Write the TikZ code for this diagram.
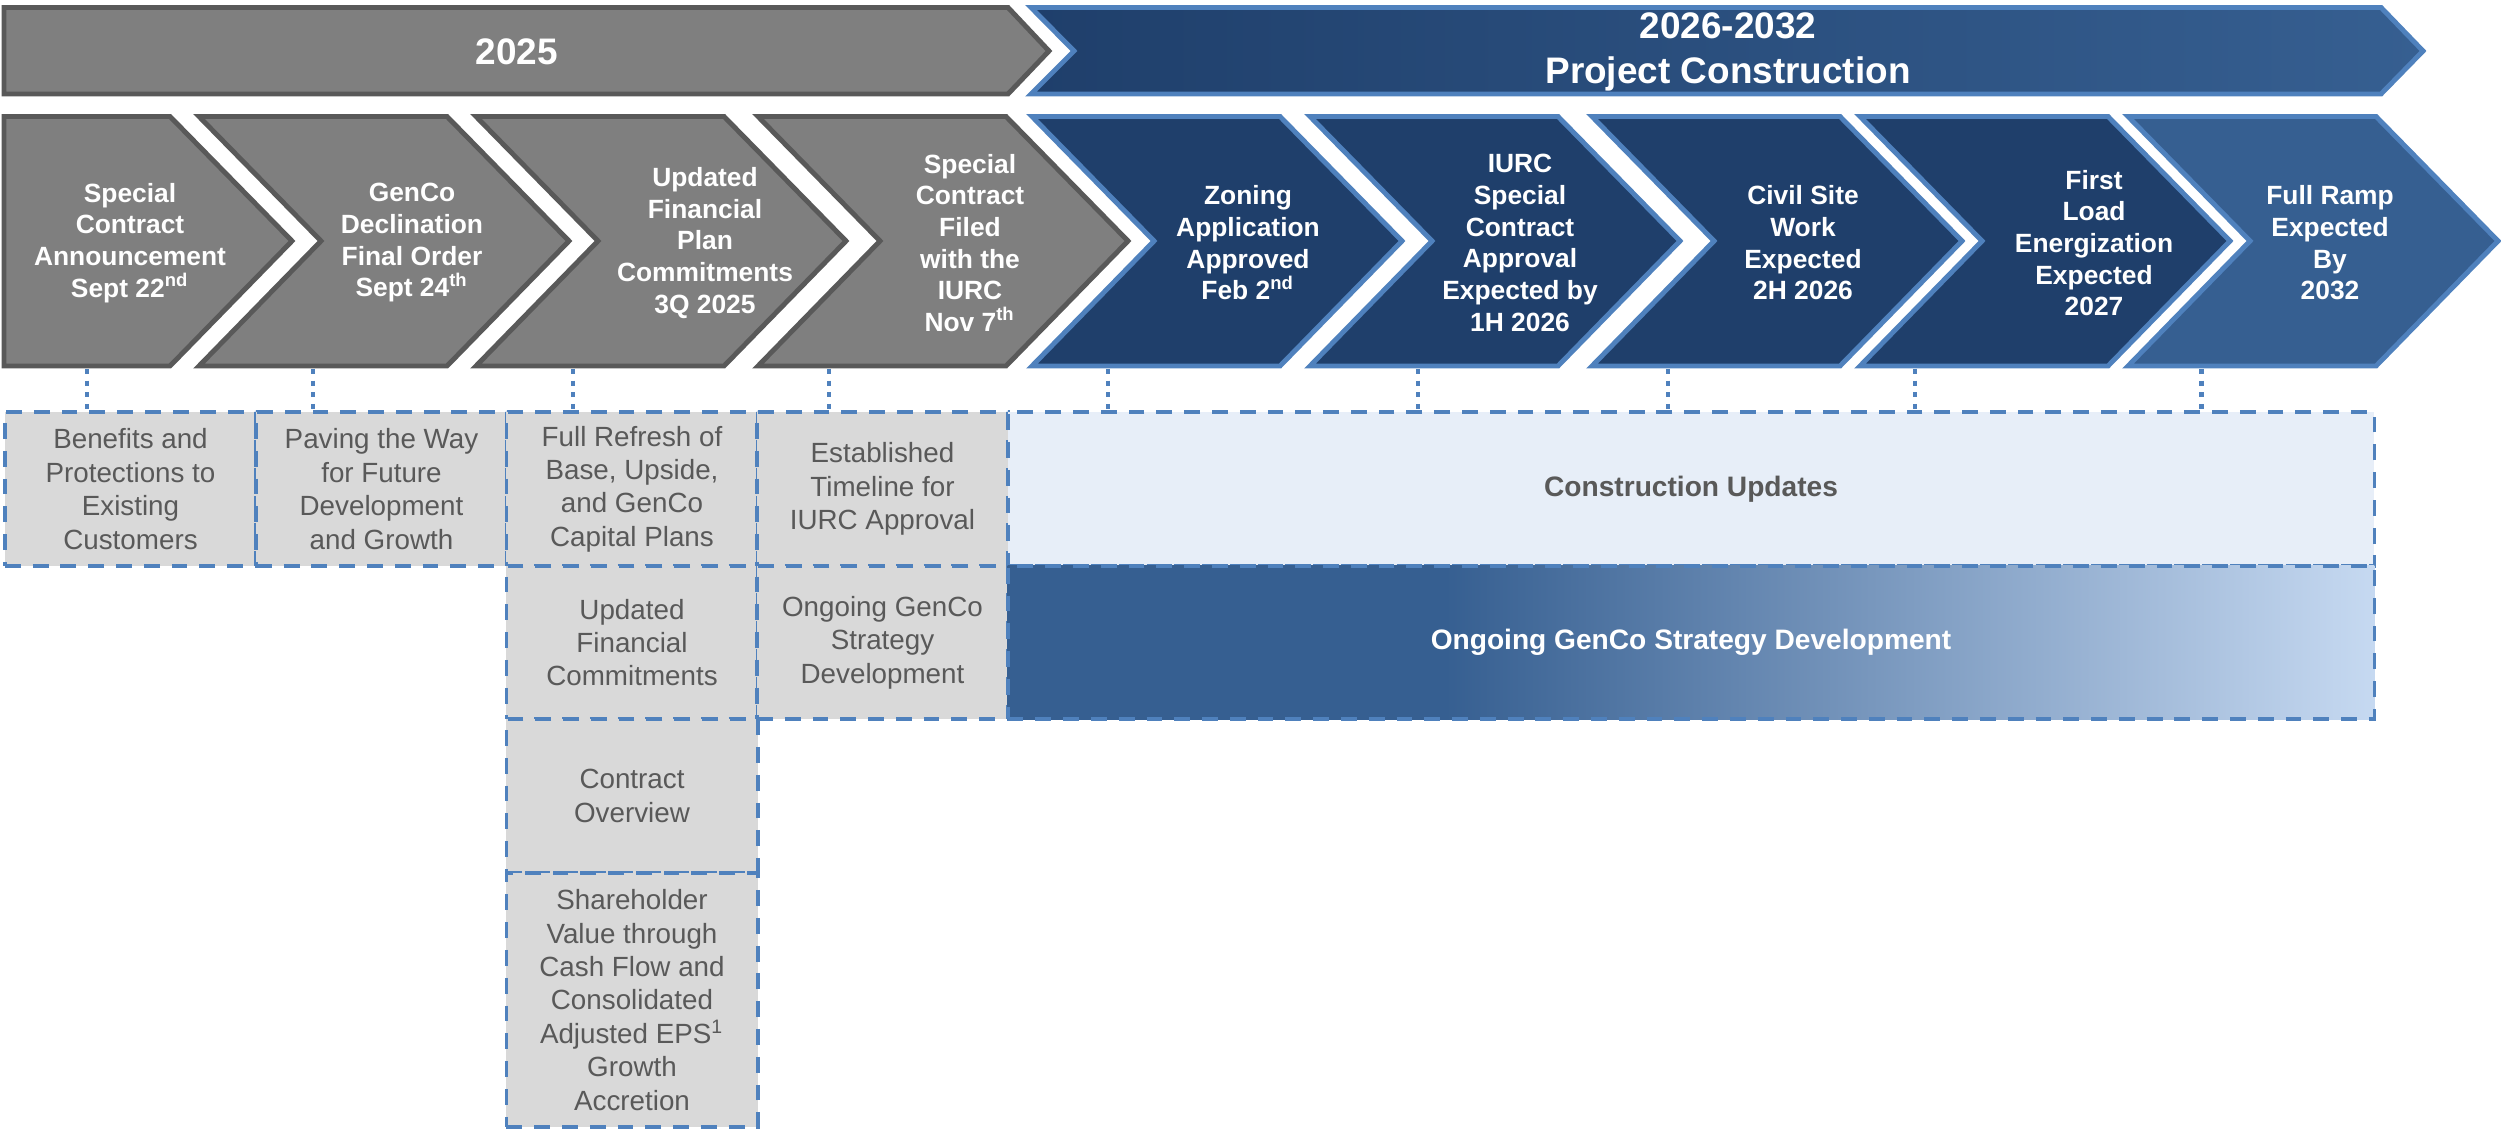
\documentclass[tikz,border=0pt]{standalone}
\usepackage{fontspec}
\setmainfont{Liberation Sans}
\usepackage{tikz}
\usetikzlibrary{shapes, calc}
\definecolor{chevGray}{HTML}{7F7F7F}
\definecolor{edgeGray}{HTML}{595959}
\definecolor{navy}{HTML}{1F3F6B}
\definecolor{midBlue}{HTML}{365F91}
\definecolor{edgeBlue}{HTML}{4F81BD}
\definecolor{paleBlue}{HTML}{C6D9F1}
\definecolor{iceBlue}{HTML}{E7EEF8}
\definecolor{boxGray}{HTML}{D9D9D9}
\definecolor{noteText}{HTML}{595959}
\pgfdeclarehorizontalshading{gencoFade}{100bp}{color(0bp)=(midBlue); color(41bp)=(midBlue); color(75bp)=(paleBlue); color(100bp)=(paleBlue)}
\tikzstyle{grayChev}=[fill=chevGray, draw=edgeGray, line width=1.4pt]
\tikzstyle{navyChev}=[fill=navy, draw=edgeBlue, line width=1.4pt]
\tikzstyle{lastChev}=[fill=midBlue, draw=edgeBlue, line width=1.4pt]
\tikzstyle{bannerText}=[text=white, font=\bfseries\fontsize{10.5}{12.8}\selectfont, align=center]
\tikzstyle{chevText}=[text=white, font=\bfseries\fontsize{7.5}{9}\selectfont, align=center]
\tikzstyle{noteBox}=[draw=edgeBlue, line width=1.1pt, dash pattern=on 4.5pt off 3.4pt, inner sep=0pt, minimum width=2.51cm, minimum height=1.535cm, text=noteText, font=\fontsize{7.9}{9.5}\selectfont, align=center]
\tikzstyle{wideBox}=[noteBox, minimum width=13.66cm, font=\bfseries\fontsize{8}{9.6}\selectfont]
\tikzstyle{linkLine}=[draw=edgeBlue, line width=1.4pt, dash pattern=on 1.5pt off 1.8pt]
\begin{document}
\begin{tikzpicture}[x=0.01cm, y=-0.01cm]
      \useasboundingbox (0,0) rectangle (2501,1131);

      \draw[grayChev] (4,7.5) -- (1008,7.5) -- (1049,51) -- (1008,94) -- (4,94) -- cycle;
      \draw[draw=edgeBlue, line width=1.4pt, left color=navy, right color=midBlue]
        (1031,7.5) -- (2381,7.5) -- (2423,51) -- (2381,94) -- (1031,94) -- (1074,51) -- cycle;
      \node[bannerText] (y25) at (517,52) {2025};
      \node[bannerText] (y26) at (1728,52) {2026-2032\\Project Construction};

      \draw[grayChev] (4,116.5) -- (170,116.5) -- (292,241) -- (170,366) -- (4,366) -- cycle;
      \foreach \R/\sty in {447/grayChev, 724/grayChev, 1006/grayChev, 1280/navyChev,
                           1558/navyChev, 1840/navyChev, 2108/navyChev, 2376/lastChev}
      \draw[\sty] (\R-248,116.5) -- (\R,116.5) -- (\R+122,241) -- (\R,366)
        -- (\R-248,366) -- (\R-126,241) -- cycle;

      \node[chevText] (m1) at (130,243) {Special\\Contract\\Announcement\\Sept 22\textsuperscript{nd}};
      \node[chevText] (m2) at (412,243) {GenCo\\Declination\\Final Order\\Sept 24\textsuperscript{th}};
      \node[chevText] (m3) at (705,243) {Updated\\Financial\\Plan\\Commitments\\3Q 2025};
      \node[chevText] (m4) at (970,243) {Special\\Contract\\Filed\\with the\\IURC\\Nov 7\textsuperscript{th}};
      \node[chevText] (m5) at (1248,243) {Zoning\\Application\\Approved\\Feb 2\textsuperscript{nd}};
      \node[chevText] (m6) at (1520,243) {IURC\\Special\\Contract\\Approval\\Expected by\\1H 2026};
      \node[chevText] (m7) at (1803,243) {Civil Site\\Work\\Expected\\2H 2026};
      \node[chevText] (m8) at (2094,243) {First\\Load\\Energization\\Expected\\2027};
      \node[chevText] (m9) at (2330,243) {Full Ramp\\Expected\\By\\2032};

      \node[noteBox, fill=boxGray] (b1) at (130.5,489) {Benefits and\\Protections to\\Existing\\Customers};
      \node[noteBox, fill=boxGray] (b2) at (381.5,489) {Paving the Way\\for Future\\Development\\and Growth};
      \node[noteBox, fill=boxGray] (b3) at (632,489) {Full Refresh of\\Base, Upside,\\and GenCo\\Capital Plans};
      \node[noteBox, fill=boxGray] (b4) at (882.5,489) {Established\\Timeline for\\IURC Approval};
      \node[wideBox, fill=iceBlue] (cu) at (1691,489) {Construction Updates};
      \node[noteBox, fill=boxGray] (c3) at (632,642.5) {Updated\\Financial\\Commitments};
      \node[noteBox, fill=boxGray] (c4) at (882.5,642.5) {Ongoing GenCo\\Strategy\\Development};
      \node[wideBox, shade, shading=gencoFade, text=white] (og) at (1691,642.5) {Ongoing GenCo Strategy Development};
      \node[noteBox, fill=boxGray] (d3) at (632,796) {Contract\\Overview};
      \node[noteBox, fill=boxGray, minimum height=2.54cm] (e3) at (632,1000)
        {Shareholder\\Value through\\Cash Flow and\\Consolidated\\Adjusted EPS\textsuperscript{1}\\Growth\\Accretion};

      \foreach \x/\b [count=\i] in {87/b1, 313/b2, 573/b3, 829/b4, 1108/cu, 1418/cu, 1668/cu, 1915/cu, 2201/cu} {
        \coordinate (t\i) at (\x,369);
        \draw[linkLine] (t\i) -- (t\i |- \b.north);
      }
\end{tikzpicture}
\end{document}
